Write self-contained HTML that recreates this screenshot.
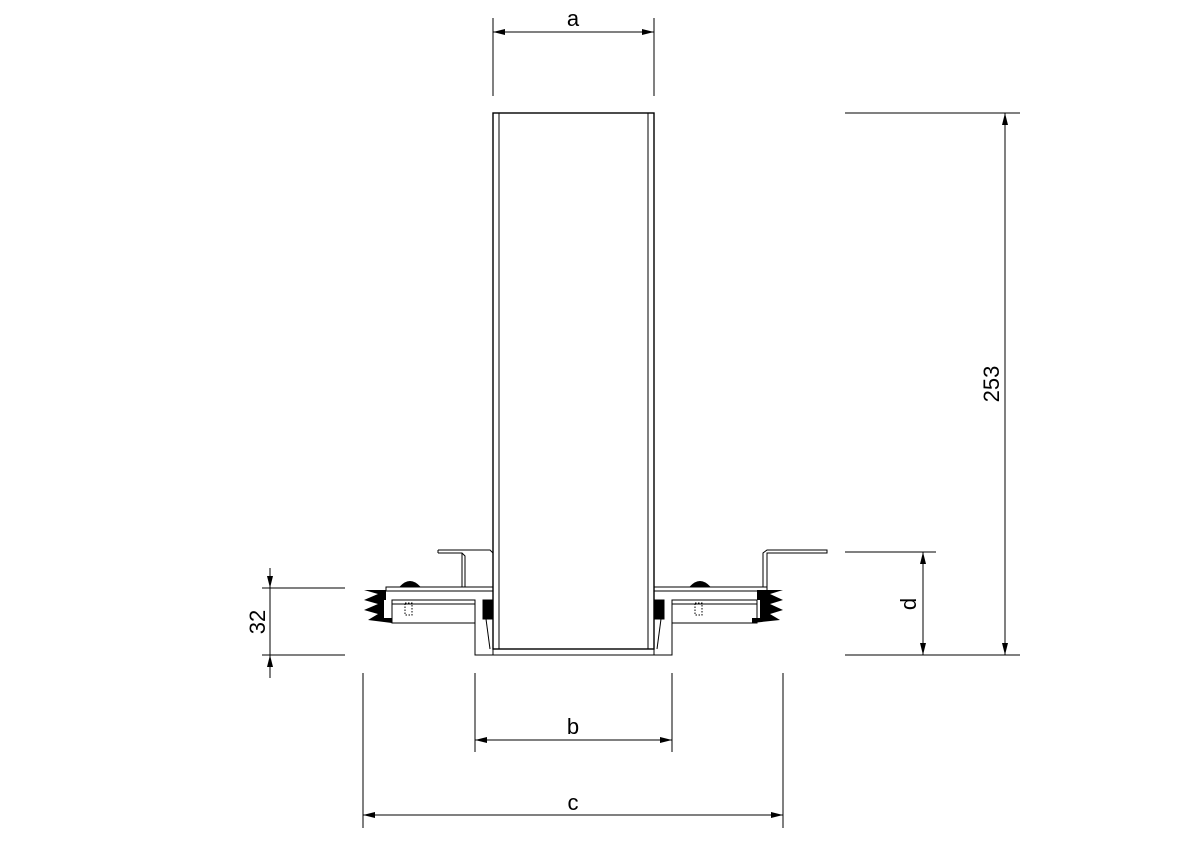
<!DOCTYPE html>
<html><head><style>body{margin:0;background:#fff}svg{display:block}</style></head><body>
<svg width="1200" height="846" viewBox="0 0 1200 846" xmlns="http://www.w3.org/2000/svg">
<defs>
<marker id="ar" viewBox="0 0 12 6" refX="12" refY="3" markerWidth="12" markerHeight="6" orient="auto-start-reverse" markerUnits="userSpaceOnUse"><path d="M0,0 L12,3 L0,6 z" fill="#000"/></marker>
</defs>
<g stroke="#000" stroke-width="1" fill="none">
<line x1="493" y1="18" x2="493" y2="96"/><line x1="654" y1="18" x2="654" y2="96"/>
<line x1="493" y1="32" x2="654" y2="32" marker-start="url(#ar)" marker-end="url(#ar)"/>
<line x1="845" y1="113" x2="1020" y2="113"/><line x1="845" y1="655" x2="1020" y2="655"/>
<line x1="1005" y1="113" x2="1005" y2="655" marker-start="url(#ar)" marker-end="url(#ar)"/>
<line x1="845" y1="552" x2="936" y2="552"/>
<line x1="923" y1="552" x2="923" y2="655" marker-start="url(#ar)" marker-end="url(#ar)"/>
<line x1="262" y1="588" x2="345" y2="588"/><line x1="262" y1="655" x2="345" y2="655"/>
<line x1="270" y1="568" x2="270" y2="588" marker-end="url(#ar)"/>
<line x1="270" y1="678" x2="270" y2="655" marker-end="url(#ar)"/>
<line x1="270" y1="588" x2="270" y2="655"/>
<line x1="475" y1="673" x2="475" y2="752"/><line x1="672" y1="673" x2="672" y2="752"/>
<line x1="475" y1="740" x2="672" y2="740" marker-start="url(#ar)" marker-end="url(#ar)"/>
<line x1="363" y1="673" x2="363" y2="828"/><line x1="783" y1="673" x2="783" y2="828"/>
<line x1="363" y1="815" x2="783" y2="815" marker-start="url(#ar)" marker-end="url(#ar)"/>

<rect x="493" y="113" width="161" height="536" stroke-width="1.4"/>
<line x1="499" y1="113" x2="499" y2="649"/><line x1="648" y1="113" x2="648" y2="649"/>
<polyline points="475,600 475,655 672,655 672,600"/>
<line x1="493" y1="649" x2="493" y2="655"/><line x1="654" y1="649" x2="654" y2="655"/>
<rect x="386" y="587" width="107" height="4"/>
<rect x="392" y="600" width="83" height="23"/>
<line x1="392" y1="604" x2="475" y2="604"/>
<polyline points="438,550 490,550 493,553"/>
<polyline points="438,553 462,553 465,556 465,587"/>
<line x1="462" y1="553" x2="462" y2="587"/>
<line x1="438" y1="550" x2="438" y2="553"/>
<rect x="654" y="587" width="113" height="4"/>
<rect x="672" y="600" width="85" height="23"/>
<line x1="672" y1="604" x2="757" y2="604"/>
<polyline points="763,587 763,553 767,550 827,550 827,553 767,553 767,587"/>
<path d="M400,587 Q410,576 420,587 z" fill="#000"/>
<path d="M690,587 Q700,576 710,587 z" fill="#000"/>
<rect x="405" y="603" width="7" height="12" stroke-dasharray="1.5 1.5"/>
<rect x="695" y="603" width="7" height="12" stroke-dasharray="1.5 1.5"/>
<rect x="483" y="600" width="10" height="19" fill="#000"/>
<rect x="654" y="600" width="10" height="19" fill="#000"/>
<line x1="486" y1="619" x2="490" y2="649"/><line x1="661" y1="619" x2="657" y2="649"/>
</g>
<g fill="#000">
<path d="M386,590 L364,590 L378,594 L364,600 L378,604 L364,610 L378,614 L368,620 L392,623 L392,618 L384,618 L384,600 L386,600 z"/>
<path d="M757,590 L783,590 L770,594 L783,600 L770,604 L783,610 L770,614 L780,620 L752,623 L752,618 L760,618 L760,600 L757,600 z"/>
</g>
<g font-family="Liberation Sans, sans-serif" font-size="22" fill="#000" text-anchor="middle">
<text x="573" y="26">a</text>
<text x="573" y="734">b</text>
<text x="573" y="810">c</text>
<text transform="translate(916,604) rotate(-90)">d</text>
<text transform="translate(999,384) rotate(-90)">253</text>
<text transform="translate(265,622) rotate(-90)">32</text>
</g>
</svg>
</body></html>
